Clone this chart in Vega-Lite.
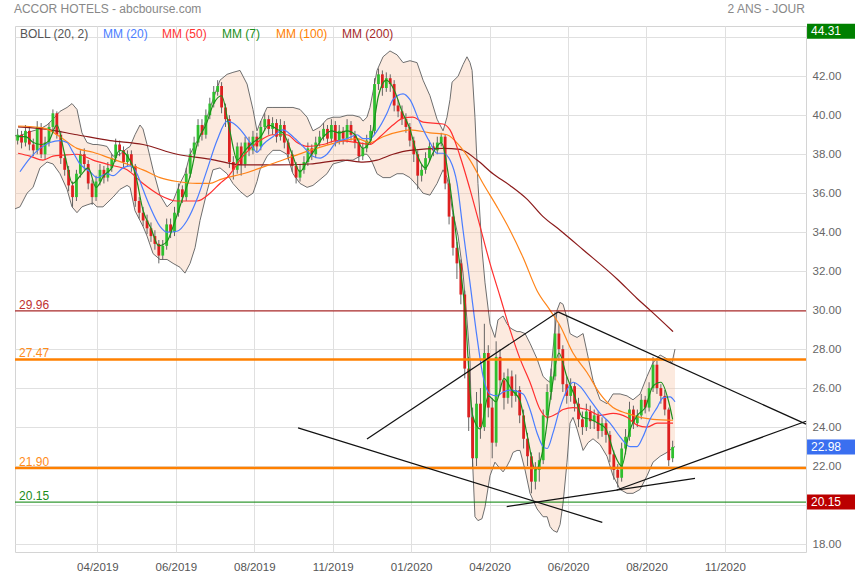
{
"$schema":"https://vega.github.io/schema/vega-lite/v6.json",
"width":791,"height":526,
"autosize":{"type":"none"},
"padding":{"left":15,"top":26,"right":49,"bottom":28},
"background":"#ffffff",
"config":{"view":{"stroke":"#d4d4d4"},"font":"Liberation Sans","axis":{"gridColor":"#e0e0e0","domain":false,"ticks":false,"labelFont":"Liberation Sans"},"scale":{"continuousPadding":0}},
"datasets":{
"candles":[
{"d":2,"o":38.7,"h":39.3,"l":38.5,"c":39.0},{"d":5,"o":39.0,"h":39.2,"l":38.3,"c":38.6},{"d":8,"o":38.6,"h":39.5,"l":38.4,"c":39.2},{"d":11,"o":39.2,"h":39.4,"l":38.2,"c":38.5},{"d":14,"o":38.5,"h":38.8,"l":37.9,"c":38.2},{"d":17,"o":38.2,"h":39.7,"l":38.0,"c":39.4},{"d":20,"o":39.4,"h":39.6,"l":37.8,"c":38.0},{"d":23,"o":38.0,"h":38.9,"l":37.7,"c":38.6},{"d":26,"o":38.6,"h":39.6,"l":38.4,"c":39.4},{"d":29,"o":39.4,"h":40.3,"l":39.2,"c":40.1},
{"d":32,"o":40.1,"h":40.2,"l":38.8,"c":39.0},{"d":35,"o":39.0,"h":39.2,"l":37.5,"c":37.8},{"d":38,"o":37.8,"h":38.0,"l":36.9,"c":37.2},{"d":41,"o":37.2,"h":37.4,"l":36.1,"c":36.4},{"d":44,"o":36.4,"h":36.6,"l":35.3,"c":35.8},{"d":47,"o":35.8,"h":37.2,"l":35.6,"c":37.0},{"d":50,"o":37.0,"h":38.2,"l":36.8,"c":38.0},{"d":53,"o":38.0,"h":38.3,"l":37.2,"c":37.5},{"d":56,"o":37.5,"h":37.7,"l":36.2,"c":36.5},{"d":59,"o":36.5,"h":36.7,"l":35.4,"c":35.8},
{"d":62,"o":35.8,"h":36.9,"l":35.6,"c":36.6},{"d":65,"o":36.6,"h":37.5,"l":36.4,"c":37.2},{"d":68,"o":37.2,"h":37.4,"l":36.5,"c":36.8},{"d":71,"o":36.8,"h":37.6,"l":36.6,"c":37.3},{"d":74,"o":37.3,"h":38.0,"l":37.1,"c":37.8},{"d":77,"o":37.8,"h":38.8,"l":37.6,"c":38.5},{"d":80,"o":38.5,"h":38.7,"l":37.9,"c":38.2},{"d":83,"o":38.2,"h":38.4,"l":37.3,"c":37.6},{"d":86,"o":37.6,"h":38.2,"l":37.4,"c":38.0},{"d":89,"o":38.0,"h":38.2,"l":37.1,"c":37.4},
{"d":92,"o":37.4,"h":37.5,"l":35.3,"c":35.6},{"d":95,"o":35.6,"h":35.8,"l":34.7,"c":35.0},{"d":98,"o":35.0,"h":35.3,"l":34.3,"c":34.6},{"d":101,"o":34.6,"h":34.9,"l":33.9,"c":34.2},{"d":104,"o":34.2,"h":34.5,"l":33.5,"c":33.8},{"d":107,"o":33.8,"h":34.1,"l":33.1,"c":33.4},{"d":110,"o":33.4,"h":33.6,"l":32.4,"c":32.8},{"d":113,"o":32.8,"h":33.6,"l":32.6,"c":33.3},{"d":116,"o":33.3,"h":34.7,"l":33.1,"c":34.4},{"d":119,"o":34.4,"h":34.7,"l":33.7,"c":34.0},
{"d":122,"o":34.0,"h":35.3,"l":33.8,"c":35.0},{"d":125,"o":35.0,"h":36.5,"l":34.8,"c":36.2},{"d":128,"o":36.2,"h":36.4,"l":35.5,"c":35.8},{"d":131,"o":35.8,"h":37.3,"l":35.6,"c":37.0},{"d":134,"o":37.0,"h":38.3,"l":36.8,"c":38.0},{"d":137,"o":38.0,"h":38.9,"l":37.8,"c":38.6},{"d":140,"o":38.6,"h":39.8,"l":38.4,"c":39.5},{"d":143,"o":39.5,"h":39.8,"l":38.7,"c":39.0},{"d":146,"o":39.0,"h":40.3,"l":38.8,"c":40.0},{"d":149,"o":40.0,"h":40.9,"l":39.8,"c":40.6},
{"d":152,"o":40.6,"h":41.5,"l":40.4,"c":41.2},{"d":155,"o":41.2,"h":41.8,"l":41.0,"c":41.5},{"d":158,"o":41.5,"h":41.7,"l":40.1,"c":40.4},{"d":161,"o":40.4,"h":40.6,"l":39.4,"c":39.8},{"d":164,"o":39.8,"h":40.0,"l":37.3,"c":37.6},{"d":167,"o":37.6,"h":37.9,"l":36.7,"c":37.2},{"d":170,"o":37.2,"h":38.6,"l":37.0,"c":38.4},{"d":173,"o":38.4,"h":38.6,"l":36.9,"c":37.5},{"d":176,"o":37.5,"h":38.9,"l":37.3,"c":38.6},{"d":179,"o":38.6,"h":38.9,"l":37.9,"c":38.2},
{"d":182,"o":38.2,"h":39.2,"l":38.0,"c":38.9},{"d":185,"o":38.9,"h":39.1,"l":38.1,"c":38.4},{"d":188,"o":38.4,"h":39.7,"l":38.2,"c":39.4},{"d":191,"o":39.4,"h":40.1,"l":39.2,"c":39.8},{"d":194,"o":39.8,"h":40.0,"l":39.0,"c":39.3},{"d":197,"o":39.3,"h":39.9,"l":39.0,"c":39.6},{"d":200,"o":39.6,"h":39.8,"l":38.6,"c":38.9},{"d":203,"o":38.9,"h":39.8,"l":38.7,"c":39.5},{"d":206,"o":39.5,"h":39.7,"l":38.3,"c":38.6},{"d":209,"o":38.6,"h":38.8,"l":37.7,"c":38.0},
{"d":212,"o":38.0,"h":38.2,"l":37.1,"c":37.4},{"d":215,"o":37.4,"h":37.6,"l":36.5,"c":36.8},{"d":218,"o":36.8,"h":37.5,"l":36.6,"c":37.2},{"d":221,"o":37.2,"h":37.9,"l":37.0,"c":37.6},{"d":224,"o":37.6,"h":38.6,"l":37.4,"c":38.3},{"d":227,"o":38.3,"h":38.5,"l":37.7,"c":38.0},{"d":230,"o":38.0,"h":38.9,"l":37.8,"c":38.6},{"d":233,"o":38.6,"h":39.2,"l":38.4,"c":38.9},{"d":236,"o":38.9,"h":39.6,"l":38.7,"c":39.3},{"d":239,"o":39.3,"h":39.5,"l":38.5,"c":38.8},
{"d":242,"o":38.8,"h":39.8,"l":38.6,"c":39.5},{"d":245,"o":39.5,"h":39.7,"l":38.4,"c":38.7},{"d":248,"o":38.7,"h":39.5,"l":38.5,"c":39.2},{"d":251,"o":39.2,"h":39.4,"l":38.5,"c":38.8},{"d":254,"o":38.8,"h":39.8,"l":38.6,"c":39.5},{"d":257,"o":39.5,"h":39.7,"l":38.7,"c":39.0},{"d":260,"o":39.0,"h":39.2,"l":38.3,"c":38.6},{"d":263,"o":38.6,"h":38.8,"l":37.6,"c":37.9},{"d":266,"o":37.9,"h":38.6,"l":37.7,"c":38.3},{"d":269,"o":38.3,"h":39.0,"l":38.1,"c":38.7},
{"d":272,"o":38.7,"h":39.5,"l":38.5,"c":39.2},{"d":275,"o":39.2,"h":41.9,"l":39.0,"c":41.6},{"d":278,"o":41.6,"h":42.4,"l":41.3,"c":42.1},{"d":281,"o":42.1,"h":42.3,"l":41.0,"c":41.4},{"d":284,"o":41.4,"h":42.2,"l":41.2,"c":41.9},{"d":287,"o":41.9,"h":42.1,"l":41.2,"c":41.6},{"d":290,"o":41.6,"h":41.8,"l":40.2,"c":40.5},{"d":293,"o":40.5,"h":40.8,"l":39.9,"c":40.2},{"d":296,"o":40.2,"h":40.5,"l":39.5,"c":39.8},{"d":299,"o":39.8,"h":40.1,"l":39.1,"c":39.4},
{"d":302,"o":39.4,"h":39.6,"l":38.4,"c":38.7},{"d":305,"o":38.7,"h":38.9,"l":37.6,"c":38.0},{"d":308,"o":38.0,"h":38.2,"l":36.2,"c":36.9},{"d":311,"o":36.9,"h":37.5,"l":36.6,"c":37.2},{"d":314,"o":37.2,"h":38.1,"l":37.0,"c":37.8},{"d":317,"o":37.8,"h":38.7,"l":37.6,"c":38.4},{"d":320,"o":38.4,"h":38.6,"l":37.9,"c":38.2},{"d":323,"o":38.2,"h":38.9,"l":38.0,"c":38.6},{"d":326,"o":38.6,"h":39.1,"l":38.4,"c":38.9},{"d":329,"o":38.9,"h":39.0,"l":36.2,"c":36.5},
{"d":332,"o":36.5,"h":36.7,"l":34.4,"c":34.8},{"d":335,"o":34.8,"h":35.0,"l":32.8,"c":33.2},{"d":338,"o":33.2,"h":33.5,"l":31.6,"c":32.4},{"d":341,"o":32.4,"h":32.6,"l":30.3,"c":30.8},{"d":344,"o":30.8,"h":31.0,"l":26.5,"c":27.0},{"d":347,"o":27.0,"h":27.6,"l":23.8,"c":24.5},{"d":350,"o":24.5,"h":25.0,"l":21.9,"c":22.4},{"d":353,"o":22.4,"h":25.8,"l":22.0,"c":25.2},{"d":356,"o":25.2,"h":26.0,"l":23.4,"c":24.0},{"d":359,"o":24.0,"h":29.3,"l":23.8,"c":27.8},
{"d":362,"o":27.8,"h":28.2,"l":24.5,"c":25.0},{"d":365,"o":25.0,"h":25.5,"l":22.4,"c":23.2},{"d":368,"o":23.2,"h":28.4,"l":23.0,"c":27.6},{"d":371,"o":27.6,"h":28.0,"l":25.8,"c":26.4},{"d":374,"o":26.4,"h":26.8,"l":24.9,"c":25.5},{"d":377,"o":25.5,"h":27.0,"l":25.2,"c":26.6},{"d":380,"o":26.6,"h":26.9,"l":25.0,"c":25.6},{"d":383,"o":25.6,"h":26.7,"l":25.3,"c":25.9},{"d":386,"o":25.9,"h":26.1,"l":24.2,"c":24.6},{"d":389,"o":24.6,"h":24.9,"l":22.9,"c":23.4},
{"d":392,"o":23.4,"h":23.7,"l":22.0,"c":22.5},{"d":395,"o":22.5,"h":22.7,"l":20.6,"c":21.2},{"d":398,"o":21.2,"h":22.2,"l":20.8,"c":21.8},{"d":401,"o":21.8,"h":22.7,"l":21.2,"c":22.3},{"d":404,"o":22.3,"h":24.9,"l":22.1,"c":24.6},{"d":407,"o":24.6,"h":26.2,"l":24.4,"c":25.8},{"d":410,"o":25.8,"h":27.0,"l":25.4,"c":26.6},{"d":413,"o":26.6,"h":29.9,"l":26.4,"c":28.8},{"d":416,"o":28.8,"h":29.3,"l":27.4,"c":28.0},{"d":419,"o":28.0,"h":28.2,"l":25.8,"c":26.2},
{"d":422,"o":26.2,"h":26.6,"l":25.2,"c":25.6},{"d":425,"o":25.6,"h":26.5,"l":25.3,"c":26.1},{"d":428,"o":26.1,"h":26.3,"l":24.8,"c":25.2},{"d":431,"o":25.2,"h":25.5,"l":24.0,"c":24.4},{"d":434,"o":24.4,"h":24.8,"l":23.6,"c":24.0},{"d":437,"o":24.0,"h":25.2,"l":23.8,"c":24.8},{"d":440,"o":24.8,"h":25.1,"l":23.9,"c":24.3},{"d":443,"o":24.3,"h":24.9,"l":23.9,"c":24.6},{"d":446,"o":24.6,"h":24.8,"l":23.4,"c":23.8},{"d":449,"o":23.8,"h":24.5,"l":23.5,"c":24.2},
{"d":452,"o":24.2,"h":24.4,"l":23.2,"c":23.6},{"d":455,"o":23.6,"h":23.8,"l":22.2,"c":22.6},{"d":458,"o":22.6,"h":22.8,"l":21.3,"c":21.8},{"d":461,"o":21.8,"h":22.1,"l":20.9,"c":21.4},{"d":464,"o":21.4,"h":23.2,"l":21.2,"c":22.9},{"d":467,"o":22.9,"h":23.9,"l":22.6,"c":23.5},{"d":470,"o":23.5,"h":25.3,"l":23.3,"c":24.9},{"d":473,"o":24.9,"h":25.1,"l":23.9,"c":24.2},{"d":476,"o":24.2,"h":24.9,"l":24.0,"c":24.6},{"d":479,"o":24.6,"h":25.7,"l":24.4,"c":25.4},
{"d":482,"o":25.4,"h":25.6,"l":24.7,"c":25.0},{"d":485,"o":25.0,"h":26.3,"l":24.8,"c":26.0},{"d":488,"o":26.0,"h":27.6,"l":25.8,"c":27.2},{"d":491,"o":27.2,"h":27.4,"l":25.7,"c":26.0},{"d":494,"o":26.0,"h":26.2,"l":25.2,"c":25.6},{"d":497,"o":25.6,"h":25.9,"l":24.6,"c":24.9},{"d":500,"o":24.9,"h":25.0,"l":22.0,"c":22.3},{"d":503,"o":22.4,"h":23.3,"l":22.2,"c":22.98}
],
"band":[
{"d":0,"up":38.95,"lo":35.2},{"d":3.8,"up":38.95,"lo":35.3},{"d":9.2,"up":39.1,"lo":36.0},{"d":13.8,"up":39.2,"lo":36.3},{"d":19.1,"up":39.3,"lo":37.3},{"d":24.5,"up":39.5,"lo":37.6},{"d":29.1,"up":39.8,"lo":37.5},{"d":34.4,"up":40.2,"lo":37.0},{"d":39.8,"up":40.4,"lo":36.2},{"d":43.6,"up":40.6,"lo":35.3},
{"d":47.4,"up":40.3,"lo":35.0},{"d":51.2,"up":39.1,"lo":35.3},{"d":55.1,"up":38.6,"lo":35.4},{"d":59.7,"up":38.5,"lo":35.5},{"d":62.7,"up":38.5,"lo":35.3},{"d":67.3,"up":38.45,"lo":35.3},{"d":70.4,"up":38.4,"lo":35.5},{"d":75.0,"up":37.9,"lo":35.8},{"d":80.3,"up":38.0,"lo":36.2},{"d":85.7,"up":38.3,"lo":36.4},
{"d":88.0,"up":38.4,"lo":36.3},{"d":91.8,"up":39.0,"lo":35.1},{"d":95.6,"up":39.5,"lo":34.6},{"d":97.9,"up":39.3,"lo":34.3},{"d":101.0,"up":38.5,"lo":33.8},{"d":105.6,"up":37.2,"lo":32.9},{"d":110.9,"up":35.9,"lo":32.6},{"d":116.3,"up":35.3,"lo":32.6},{"d":120.9,"up":35.6,"lo":32.4},{"d":126.2,"up":36.5,"lo":32.2},
{"d":130.0,"up":37.0,"lo":31.9},{"d":133.9,"up":38.0,"lo":32.4},{"d":137.7,"up":38.5,"lo":33.2},{"d":141.5,"up":38.9,"lo":34.6},{"d":146.9,"up":39.9,"lo":36.1},{"d":151.4,"up":40.8,"lo":37.2},{"d":156.8,"up":41.8,"lo":37.3},{"d":162.2,"up":42.1,"lo":37.0},{"d":166.7,"up":42.2,"lo":36.5},{"d":172.1,"up":42.3,"lo":36.1},
{"d":177.5,"up":41.6,"lo":35.8},{"d":182.0,"up":40.3,"lo":36.0},{"d":185.1,"up":39.2,"lo":36.6},{"d":187.4,"up":39.6,"lo":37.2},{"d":192.8,"up":40.4,"lo":37.9},{"d":197.3,"up":40.4,"lo":38.2},{"d":202.7,"up":40.4,"lo":38.2},{"d":208.0,"up":40.4,"lo":38.0},{"d":212.6,"up":40.4,"lo":37.0},{"d":218.0,"up":40.3,"lo":36.5},
{"d":223.4,"up":39.9,"lo":36.3},{"d":227.9,"up":39.2,"lo":36.4},{"d":233.3,"up":39.4,"lo":36.7},{"d":238.6,"up":39.8,"lo":37.0},{"d":243.2,"up":39.9,"lo":37.5},{"d":248.6,"up":39.9,"lo":37.6},{"d":254.0,"up":40.0,"lo":37.7},{"d":258.5,"up":40.0,"lo":37.7},{"d":263.9,"up":39.9,"lo":37.9},{"d":266.2,"up":39.7,"lo":38.0},
{"d":269.2,"up":39.9,"lo":38.0},{"d":271.5,"up":40.4,"lo":37.8},{"d":273.8,"up":41.2,"lo":37.5},{"d":276.9,"up":42.3,"lo":37.0},{"d":281.5,"up":43.0,"lo":36.8},{"d":286.8,"up":43.3,"lo":36.8},{"d":292.2,"up":43.1,"lo":37.0},{"d":296.8,"up":42.7,"lo":37.0},{"d":302.1,"up":42.8,"lo":36.8},{"d":307.5,"up":42.7,"lo":36.4},
{"d":312.1,"up":41.8,"lo":36.0},{"d":317.4,"up":41.0,"lo":35.9},{"d":322.8,"up":39.8,"lo":36.5},{"d":327.4,"up":39.2,"lo":37.2},{"d":330.4,"up":39.9,"lo":36.8},{"d":332.7,"up":40.8,"lo":36.0},{"d":334.3,"up":41.7,"lo":35.2},{"d":338.9,"up":42.0,"lo":33.8},{"d":342.7,"up":42.6,"lo":31.9},{"d":345.7,"up":43.0,"lo":29.5},
{"d":348.0,"up":42.7,"lo":27.5},{"d":349.6,"up":42.3,"lo":22.8},{"d":351.8,"up":39.9,"lo":19.4},{"d":354.1,"up":36.5,"lo":19.2},{"d":357.2,"up":33.1,"lo":19.3},{"d":359.5,"up":31.4,"lo":19.9},{"d":363.3,"up":29.3,"lo":21.5},{"d":367.1,"up":28.6,"lo":22.2},{"d":369.4,"up":29.5,"lo":22.0},{"d":373.3,"up":29.7,"lo":21.7},
{"d":376.3,"up":29.3,"lo":22.0},{"d":378.6,"up":29.1,"lo":22.3},{"d":380.9,"up":29.0,"lo":22.7},{"d":384.0,"up":28.9,"lo":22.8},{"d":386.3,"up":28.9,"lo":22.8},{"d":390.1,"up":28.8,"lo":21.8},{"d":393.9,"up":28.3,"lo":20.6},{"d":399.3,"up":27.5,"lo":19.8},{"d":403.9,"up":26.6,"lo":19.4},{"d":407.0,"up":26.4,"lo":19.4},
{"d":409.2,"up":26.3,"lo":18.9},{"d":411.5,"up":28.0,"lo":18.7},{"d":414.6,"up":30.0,"lo":18.6},{"d":416.9,"up":30.4,"lo":19.0},{"d":419.2,"up":30.3,"lo":20.1},{"d":422.2,"up":29.6,"lo":22.2},{"d":424.5,"up":28.8,"lo":24.2},{"d":426.8,"up":28.7,"lo":24.5},{"d":429.9,"up":28.6,"lo":23.9},{"d":434.5,"up":28.8,"lo":22.8},
{"d":438.3,"up":27.6,"lo":23.2},{"d":442.1,"up":26.4,"lo":23.4},{"d":447.5,"up":25.4,"lo":23.1},{"d":452.8,"up":25.2,"lo":22.5},{"d":457.4,"up":25.7,"lo":21.5},{"d":462.8,"up":25.7,"lo":20.8},{"d":468.1,"up":25.6,"lo":20.6},{"d":472.7,"up":25.4,"lo":20.6},{"d":478.1,"up":25.7,"lo":20.8},{"d":483.4,"up":26.6,"lo":21.5},
{"d":488.0,"up":27.3,"lo":22.2},{"d":493.4,"up":27.7,"lo":22.5},{"d":498.7,"up":27.5,"lo":22.7},{"d":502.5,"up":27.3,"lo":22.9},{"d":504.8,"up":28.0,"lo":23.0}
],
"ma":[
{"s":"MM200","d":2.3,"v":39.4},{"s":"MM200","d":21.4,"v":39.3},{"s":"MM200","d":47.4,"v":39.0},{"s":"MM200","d":72.7,"v":38.7},{"s":"MM200","d":97.9,"v":38.5},{"s":"MM200","d":123.9,"v":38.0},{"s":"MM200","d":149.1,"v":37.75},{"s":"MM200","d":174.4,"v":37.45},{"s":"MM200","d":200.4,"v":37.45},{"s":"MM200","d":225.6,"v":37.5},{"s":"MM200","d":250.9,"v":37.7},{"s":"MM200","d":266.2,"v":37.6},{"s":"MM200","d":276.9,"v":37.7},{"s":"MM200","d":289.1,"v":38.0},{"s":"MM200","d":302.1,"v":38.2},{"s":"MM200","d":327.4,"v":38.3},{"s":"MM200","d":340.4,"v":38.25},{"s":"MM200","d":353.4,"v":37.7},{"s":"MM200","d":365.6,"v":37.0},{"s":"MM200","d":378.6,"v":36.4},{"s":"MM200","d":391.6,"v":35.7},{"s":"MM200","d":403.9,"v":34.8},{"s":"MM200","d":416.9,"v":34.1},{"s":"MM200","d":434.5,"v":33.1},{"s":"MM200","d":460.5,"v":31.6},{"s":"MM200","d":475.8,"v":30.6},{"s":"MM200","d":485.7,"v":30.0},{"s":"MM200","d":503.3,"v":28.9},
{"s":"MM100","d":2.3,"v":39.45},{"s":"MM100","d":21.4,"v":39.35},{"s":"MM100","d":34.4,"v":38.9},{"s":"MM100","d":47.4,"v":38.3},{"s":"MM100","d":59.7,"v":38.1},{"s":"MM100","d":72.7,"v":37.8},{"s":"MM100","d":85.7,"v":37.5},{"s":"MM100","d":97.9,"v":37.2},{"s":"MM100","d":110.9,"v":36.8},{"s":"MM100","d":123.9,"v":36.6},{"s":"MM100","d":139.2,"v":36.5},{"s":"MM100","d":149.1,"v":36.5},{"s":"MM100","d":156.8,"v":36.7},{"s":"MM100","d":174.4,"v":37.0},{"s":"MM100","d":200.4,"v":37.6},{"s":"MM100","d":225.6,"v":38.2},{"s":"MM100","d":246.3,"v":38.6},{"s":"MM100","d":261.6,"v":38.8},{"s":"MM100","d":271.5,"v":38.6},{"s":"MM100","d":281.5,"v":38.9},{"s":"MM100","d":296.8,"v":39.2},{"s":"MM100","d":302.1,"v":39.25},{"s":"MM100","d":317.4,"v":39.1},{"s":"MM100","d":330.4,"v":39.0},{"s":"MM100","d":340.4,"v":38.4},{"s":"MM100","d":348.0,"v":37.7},{"s":"MM100","d":358.0,"v":36.5},{"s":"MM100","d":368.7,"v":35.3},{"s":"MM100","d":378.6,"v":34.1},{"s":"MM100","d":388.6,"v":32.7},{"s":"MM100","d":399.3,"v":31.0},{"s":"MM100","d":409.2,"v":30.0},{"s":"MM100","d":416.9,"v":29.2},{"s":"MM100","d":426.8,"v":27.8},{"s":"MM100","d":437.5,"v":26.8},{"s":"MM100","d":447.5,"v":25.7},{"s":"MM100","d":457.4,"v":25.0},{"s":"MM100","d":468.1,"v":24.7},{"s":"MM100","d":478.1,"v":24.5},{"s":"MM100","d":488.0,"v":24.4},{"s":"MM100","d":503.3,"v":24.35},
{"s":"MM50","d":2.3,"v":38.05},{"s":"MM50","d":11.5,"v":37.9},{"s":"MM50","d":21.4,"v":37.7},{"s":"MM50","d":29.1,"v":37.9},{"s":"MM50","d":36.7,"v":37.95},{"s":"MM50","d":47.4,"v":38.0},{"s":"MM50","d":59.7,"v":37.7},{"s":"MM50","d":72.7,"v":37.45},{"s":"MM50","d":85.7,"v":37.2},{"s":"MM50","d":97.9,"v":36.5},{"s":"MM50","d":110.9,"v":35.9},{"s":"MM50","d":123.9,"v":35.6},{"s":"MM50","d":139.2,"v":35.6},{"s":"MM50","d":149.1,"v":36.0},{"s":"MM50","d":156.8,"v":36.5},{"s":"MM50","d":162.2,"v":36.8},{"s":"MM50","d":174.4,"v":37.9},{"s":"MM50","d":187.4,"v":38.7},{"s":"MM50","d":197.3,"v":39.0},{"s":"MM50","d":208.0,"v":39.0},{"s":"MM50","d":215.7,"v":38.6},{"s":"MM50","d":223.4,"v":38.4},{"s":"MM50","d":235.6,"v":38.5},{"s":"MM50","d":246.3,"v":38.7},{"s":"MM50","d":261.6,"v":38.6},{"s":"MM50","d":271.5,"v":38.5},{"s":"MM50","d":279.2,"v":38.9},{"s":"MM50","d":289.1,"v":39.5},{"s":"MM50","d":296.8,"v":39.85},{"s":"MM50","d":304.4,"v":39.9},{"s":"MM50","d":312.1,"v":39.65},{"s":"MM50","d":327.4,"v":39.55},{"s":"MM50","d":332.7,"v":39.25},{"s":"MM50","d":340.4,"v":37.9},{"s":"MM50","d":348.0,"v":36.2},{"s":"MM50","d":355.7,"v":34.3},{"s":"MM50","d":363.3,"v":32.4},{"s":"MM50","d":371.0,"v":30.7},{"s":"MM50","d":378.6,"v":29.0},{"s":"MM50","d":386.3,"v":27.5},{"s":"MM50","d":393.9,"v":26.3},{"s":"MM50","d":401.6,"v":24.9},{"s":"MM50","d":407.0,"v":24.5},{"s":"MM50","d":414.6,"v":24.7},{"s":"MM50","d":419.2,"v":24.9},{"s":"MM50","d":426.8,"v":25.0},{"s":"MM50","d":437.5,"v":24.9},{"s":"MM50","d":447.5,"v":24.6},{"s":"MM50","d":457.4,"v":24.7},{"s":"MM50","d":468.1,"v":24.5},{"s":"MM50","d":475.8,"v":24.1},{"s":"MM50","d":483.4,"v":24.0},{"s":"MM50","d":491.1,"v":24.2},{"s":"MM50","d":503.3,"v":24.2},
{"s":"MM20","d":3.8,"v":37.1},{"s":"MM20","d":11.5,"v":37.8},{"s":"MM20","d":19.1,"v":38.3},{"s":"MM20","d":26.8,"v":38.6},{"s":"MM20","d":34.4,"v":38.7},{"s":"MM20","d":39.8,"v":38.6},{"s":"MM20","d":44.4,"v":38.1},{"s":"MM20","d":49.7,"v":37.5},{"s":"MM20","d":57.4,"v":37.1},{"s":"MM20","d":62.7,"v":36.8},{"s":"MM20","d":70.4,"v":37.0},{"s":"MM20","d":75.0,"v":36.9},{"s":"MM20","d":82.6,"v":37.3},{"s":"MM20","d":88.0,"v":37.4},{"s":"MM20","d":93.3,"v":37.0},{"s":"MM20","d":97.9,"v":36.2},{"s":"MM20","d":103.3,"v":35.3},{"s":"MM20","d":110.9,"v":34.3},{"s":"MM20","d":116.3,"v":34.0},{"s":"MM20","d":123.9,"v":34.05},{"s":"MM20","d":131.6,"v":34.6},{"s":"MM20","d":139.2,"v":35.7},{"s":"MM20","d":146.9,"v":37.2},{"s":"MM20","d":154.5,"v":38.7},{"s":"MM20","d":162.2,"v":39.7},{"s":"MM20","d":166.7,"v":39.6},{"s":"MM20","d":174.4,"v":39.1},{"s":"MM20","d":179.8,"v":38.6},{"s":"MM20","d":185.1,"v":38.1},{"s":"MM20","d":189.7,"v":38.5},{"s":"MM20","d":197.3,"v":38.9},{"s":"MM20","d":205.0,"v":39.25},{"s":"MM20","d":212.6,"v":38.9},{"s":"MM20","d":220.3,"v":38.4},{"s":"MM20","d":227.9,"v":37.9},{"s":"MM20","d":233.3,"v":37.8},{"s":"MM20","d":238.6,"v":38.0},{"s":"MM20","d":246.3,"v":38.65},{"s":"MM20","d":254.0,"v":38.8},{"s":"MM20","d":261.6,"v":39.0},{"s":"MM20","d":266.2,"v":38.8},{"s":"MM20","d":271.5,"v":38.8},{"s":"MM20","d":276.9,"v":39.2},{"s":"MM20","d":284.5,"v":40.1},{"s":"MM20","d":289.1,"v":40.8},{"s":"MM20","d":296.8,"v":41.1},{"s":"MM20","d":302.1,"v":40.8},{"s":"MM20","d":309.8,"v":39.6},{"s":"MM20","d":317.4,"v":38.6},{"s":"MM20","d":322.8,"v":38.05},{"s":"MM20","d":327.4,"v":38.05},{"s":"MM20","d":332.7,"v":37.7},{"s":"MM20","d":338.1,"v":36.5},{"s":"MM20","d":342.7,"v":34.1},{"s":"MM20","d":348.0,"v":31.4},{"s":"MM20","d":353.4,"v":28.6},{"s":"MM20","d":358.0,"v":26.6},{"s":"MM20","d":363.3,"v":25.7},{"s":"MM20","d":368.7,"v":25.6},{"s":"MM20","d":373.3,"v":25.8},{"s":"MM20","d":378.6,"v":25.9},{"s":"MM20","d":388.6,"v":25.7},{"s":"MM20","d":393.9,"v":24.9},{"s":"MM20","d":399.3,"v":23.7},{"s":"MM20","d":403.9,"v":23.0},{"s":"MM20","d":407.0,"v":22.9},{"s":"MM20","d":411.5,"v":23.7},{"s":"MM20","d":416.9,"v":25.0},{"s":"MM20","d":422.2,"v":25.9},{"s":"MM20","d":426.8,"v":26.3},{"s":"MM20","d":432.0,"v":26.1},{"s":"MM20","d":439.8,"v":25.4},{"s":"MM20","d":447.5,"v":24.7},{"s":"MM20","d":455.1,"v":24.2},{"s":"MM20","d":462.8,"v":23.5},{"s":"MM20","d":470.4,"v":23.0},{"s":"MM20","d":475.8,"v":23.0},{"s":"MM20","d":480.3,"v":23.5},{"s":"MM20","d":485.7,"v":24.4},{"s":"MM20","d":491.1,"v":25.0},{"s":"MM20","d":495.6,"v":25.5},{"s":"MM20","d":501.0,"v":25.55},{"s":"MM20","d":504.8,"v":25.3},
{"s":"MM7","d":2,"v":38.9},{"s":"MM7","d":8,"v":38.9},{"s":"MM7","d":14,"v":38.6},{"s":"MM7","d":20,"v":38.5},{"s":"MM7","d":26,"v":38.7},{"s":"MM7","d":32,"v":39.5},{"s":"MM7","d":38,"v":38.0},{"s":"MM7","d":44,"v":36.5},{"s":"MM7","d":50,"v":36.9},{"s":"MM7","d":56,"v":37.3},{"s":"MM7","d":62,"v":36.3},{"s":"MM7","d":68,"v":36.9},{"s":"MM7","d":74,"v":37.3},{"s":"MM7","d":80,"v":38.2},{"s":"MM7","d":86,"v":37.9},{"s":"MM7","d":92,"v":37.0},{"s":"MM7","d":98,"v":35.1},{"s":"MM7","d":104,"v":34.2},{"s":"MM7","d":110,"v":33.3},{"s":"MM7","d":116,"v":33.5},{"s":"MM7","d":122,"v":34.5},{"s":"MM7","d":128,"v":35.7},{"s":"MM7","d":134,"v":36.9},{"s":"MM7","d":140,"v":38.7},{"s":"MM7","d":146,"v":39.5},{"s":"MM7","d":152,"v":40.6},{"s":"MM7","d":158,"v":41.0},{"s":"MM7","d":164,"v":39.3},{"s":"MM7","d":170,"v":37.7},{"s":"MM7","d":176,"v":38.2},{"s":"MM7","d":182,"v":38.6},{"s":"MM7","d":188,"v":38.9},{"s":"MM7","d":194,"v":39.5},{"s":"MM7","d":200,"v":39.3},{"s":"MM7","d":206,"v":39.0},{"s":"MM7","d":212,"v":38.0},{"s":"MM7","d":218,"v":37.1},{"s":"MM7","d":224,"v":37.7},{"s":"MM7","d":230,"v":38.3},{"s":"MM7","d":236,"v":38.9},{"s":"MM7","d":242,"v":39.2},{"s":"MM7","d":248,"v":39.1},{"s":"MM7","d":254,"v":39.2},{"s":"MM7","d":260,"v":39.0},{"s":"MM7","d":266,"v":38.3},{"s":"MM7","d":272,"v":38.7},{"s":"MM7","d":278,"v":41.0},{"s":"MM7","d":284,"v":41.8},{"s":"MM7","d":290,"v":41.3},{"s":"MM7","d":296,"v":40.2},{"s":"MM7","d":302,"v":39.3},{"s":"MM7","d":308,"v":37.9},{"s":"MM7","d":314,"v":37.3},{"s":"MM7","d":320,"v":38.1},{"s":"MM7","d":326,"v":38.6},{"s":"MM7","d":332,"v":36.7},{"s":"MM7","d":338,"v":33.5},{"s":"MM7","d":344,"v":30.1},{"s":"MM7","d":350,"v":24.6},{"s":"MM7","d":356,"v":23.9},{"s":"MM7","d":362,"v":25.6},{"s":"MM7","d":368,"v":25.3},{"s":"MM7","d":374,"v":26.5},{"s":"MM7","d":380,"v":25.9},{"s":"MM7","d":386,"v":25.4},{"s":"MM7","d":392,"v":23.5},{"s":"MM7","d":398,"v":21.8},{"s":"MM7","d":404,"v":22.9},{"s":"MM7","d":410,"v":25.7},{"s":"MM7","d":416,"v":27.8},{"s":"MM7","d":422,"v":26.6},{"s":"MM7","d":428,"v":25.6},{"s":"MM7","d":434,"v":24.5},{"s":"MM7","d":440,"v":24.4},{"s":"MM7","d":446,"v":24.2},{"s":"MM7","d":452,"v":23.9},{"s":"MM7","d":458,"v":22.7},{"s":"MM7","d":464,"v":22.0},{"s":"MM7","d":470,"v":23.8},{"s":"MM7","d":476,"v":24.6},{"s":"MM7","d":482,"v":25.0},{"s":"MM7","d":488,"v":26.1},{"s":"MM7","d":494,"v":26.3},{"s":"MM7","d":500,"v":25.3},{"s":"MM7","d":503,"v":24.4}
],
"levels":[{"name":"29.96","v":29.96},{"name":"27.47","v":27.47},{"name":"21.90","v":21.90},{"name":"20.15","v":20.15}],
"trend":[
{"line":"a","d":269.2,"v":23.39},{"line":"a","d":415.3,"v":29.91},
{"line":"b","d":415.3,"v":29.91},{"line":"b","d":605,"v":24.15},
{"line":"c","d":216.5,"v":23.96},{"line":"c","d":449.2,"v":19.11},
{"line":"e","d":376.1,"v":19.92},{"line":"e","d":520.1,"v":21.37},
{"line":"f","d":460.2,"v":20.77},{"line":"f","d":605,"v":24.3}
],
"tags":[{"label":"44.31","v":44.31},{"label":"22.98","v":22.98},{"label":"20.15","v":20.15}]
},
"resolve":{"scale":{"color":"independent"}},
"layer":[
{"data":{"name":"band"},"mark":{"type":"area","color":"#f7c3a3","opacity":0.35},
 "encoding":{
  "x":{"field":"d","type":"quantitative","title":null,"scale":{"domain":[0,605],"nice":false,"zero":false,"padding":0},
   "axis":{"values":[63,123,183,243,303,363,423,483,543],"labelExpr":"['04/2019','06/2019','08/2019','11/2019','01/2020','04/2020','06/2020','08/2020','11/2020'][round((datum.value-63)/60)]","title":null,"grid":true,"labelColor":"#555555","labelFontSize":11.5,"labelPadding":9}},
  "y":{"field":"lo","type":"quantitative","title":null,"scale":{"domain":[17.59,44.58],"nice":false,"zero":false,"padding":0},
   "axis":{"orient":"right","values":[18,20,22,24,26,28,30,32,34,36,38,40,42,44],"labelExpr":"datum.value == 44 || datum.value == 20 ? '' : format(datum.value, '.2f')","title":null,"grid":true,"labelColor":"#666666","labelFontSize":11.5,"labelPadding":6,"labelAlign":"left"}},
  "y2":{"field":"up"}}},
{"data":{"name":"band"},"mark":{"type":"line","color":"#6e6e6e","strokeWidth":1},
 "encoding":{"x":{"field":"d","type":"quantitative","title":null,"scale":{"domain":[0,605],"nice":false,"zero":false,"padding":0}},"y":{"field":"up","type":"quantitative","title":null,"scale":{"domain":[17.59,44.58],"nice":false,"zero":false,"padding":0}}}},
{"data":{"name":"band"},"mark":{"type":"line","color":"#6e6e6e","strokeWidth":1},
 "encoding":{"x":{"field":"d","type":"quantitative","title":null,"scale":{"domain":[0,605],"nice":false,"zero":false,"padding":0}},"y":{"field":"lo","type":"quantitative","title":null,"scale":{"domain":[17.59,44.58],"nice":false,"zero":false,"padding":0}}}},
{"data":{"name":"candles"},"mark":{"type":"rule","color":"#555555","strokeWidth":0.9},
 "encoding":{"x":{"field":"d","type":"quantitative","title":null,"scale":{"domain":[0,605],"nice":false,"zero":false,"padding":0}},"y":{"field":"l","type":"quantitative","title":null,"scale":{"domain":[17.59,44.58],"nice":false,"zero":false,"padding":0}},"y2":{"field":"h"}}},
{"data":{"name":"candles"},"mark":{"type":"bar","size":2.8,"orient":"vertical"},
 "encoding":{"x":{"field":"d","type":"quantitative","title":null,"scale":{"domain":[0,605],"nice":false,"zero":false,"padding":0}},"y":{"field":"o","type":"quantitative","title":null,"scale":{"domain":[17.59,44.58],"nice":false,"zero":false,"padding":0}},"y2":{"field":"c"},
  "color":{"condition":{"test":"datum.c >= datum.o","value":"#2fbf2f"},"value":"#dd2020"}}},
{"data":{"name":"ma"},"mark":{"type":"line","strokeWidth":1.2,"interpolate":"monotone"},
 "encoding":{"x":{"field":"d","type":"quantitative","title":null,"scale":{"domain":[0,605],"nice":false,"zero":false,"padding":0}},"y":{"field":"v","type":"quantitative","title":null,"scale":{"domain":[17.59,44.58],"nice":false,"zero":false,"padding":0}},
  "color":{"field":"s","type":"nominal","scale":{"domain":["MM200","MM100","MM50","MM20","MM7"],"range":["#8b1a1a","#ff8419","#ff2f2f","#4a7dff","#1c8e1c"]},"legend":null}}},
{"data":{"name":"levels"},"transform":[{"filter":"datum.name == '27.47' || datum.name == '21.90'"}],"mark":{"type":"rule","color":"#ff8000","strokeWidth":2.6},
 "encoding":{"y":{"field":"v","type":"quantitative","title":null,"scale":{"domain":[17.59,44.58],"nice":false,"zero":false,"padding":0}}}},
{"data":{"name":"levels"},"transform":[{"filter":"datum.name == '29.96' || datum.name == '20.15'"}],"mark":{"type":"rule","strokeWidth":1},
 "encoding":{"y":{"field":"v","type":"quantitative","title":null,"scale":{"domain":[17.59,44.58],"nice":false,"zero":false,"padding":0}},
  "color":{"field":"name","type":"nominal","scale":{"domain":["29.96","20.15"],"range":["#a00000","#008000"]},"legend":null}}},
{"data":{"name":"levels"},"mark":{"type":"text","align":"left","baseline":"alphabetic","dy":-2,"fontSize":12},
 "encoding":{"x":{"datum":3.1,"scale":{"domain":[0,605],"nice":false,"zero":false,"padding":0}},"y":{"field":"v","type":"quantitative","title":null,"scale":{"domain":[17.59,44.58],"nice":false,"zero":false,"padding":0}},"text":{"field":"name"},
  "color":{"field":"name","type":"nominal","scale":{"domain":["29.96","27.47","21.90","20.15"],"range":["#c03030","#ff8c1a","#ff8c1a","#1a8c1a"]},"legend":null}}},
{"data":{"name":"trend"},"mark":{"type":"line","color":"#111111","strokeWidth":1.2},
 "encoding":{"x":{"field":"d","type":"quantitative","title":null,"scale":{"domain":[0,605],"nice":false,"zero":false,"padding":0}},"y":{"field":"v","type":"quantitative","title":null,"scale":{"domain":[17.59,44.58],"nice":false,"zero":false,"padding":0}},"detail":{"field":"line"}}},
{"data":{"name":"tags"},"mark":{"type":"bar","orient":"horizontal","size":15},
 "encoding":{"x":{"datum":605.8,"scale":{"domain":[0,605],"nice":false,"zero":false,"padding":0}},"x2":{"datum":642.5},"y":{"field":"v","type":"quantitative","title":null,"scale":{"domain":[17.59,44.58],"nice":false,"zero":false,"padding":0}},
  "color":{"field":"label","type":"nominal","scale":{"domain":["44.31","22.98","20.15"],"range":["#008000","#3a6ff0","#bb0000"]},"legend":null}}},
{"data":{"name":"tags"},"mark":{"type":"text","align":"left","baseline":"middle","fontSize":12,"color":"#ffffff"},
 "encoding":{"x":{"datum":608.8,"scale":{"domain":[0,605],"nice":false,"zero":false,"padding":0}},"y":{"field":"v","type":"quantitative","title":null,"scale":{"domain":[17.59,44.58],"nice":false,"zero":false,"padding":0}},"text":{"field":"label"}}},
{"data":{"values":[{"t":"BOLL (20, 2)","x":3.8,"c":"#555555"},{"t":"MM (20)","x":67.3,"c":"#4a7dff"},{"t":"MM (50)","x":112.4,"c":"#ff3333"},{"t":"MM (7)","x":158.3,"c":"#1a8f1a"},{"t":"MM (100)","x":199.6,"c":"#ff8000"},{"t":"MM (200)","x":250.1,"c":"#a52a2a"}]},
 "mark":{"type":"text","align":"left","baseline":"alphabetic","fontSize":12},
 "encoding":{"x":{"field":"x","type":"quantitative","title":null,"scale":{"domain":[0,605],"nice":false,"zero":false,"padding":0}},"y":{"datum":43.97,"scale":{"domain":[17.59,44.58],"nice":false,"zero":false,"padding":0}},"text":{"field":"t"},"color":{"field":"c","type":"nominal","scale":null}}},
{"data":{"values":[{"t":"ACCOR HOTELS - abcbourse.com"}]},"mark":{"type":"text","align":"left","baseline":"alphabetic","fontSize":12,"color":"#888888"},
 "encoding":{"x":{"datum":-0.8,"scale":{"domain":[0,605],"nice":false,"zero":false,"padding":0}},"y":{"datum":45.25,"scale":{"domain":[17.59,44.58],"nice":false,"zero":false,"padding":0}},"text":{"field":"t"}}},
{"data":{"values":[{"t":"2 ANS - JOUR"}]},"mark":{"type":"text","align":"right","baseline":"alphabetic","fontSize":12,"color":"#888888"},
 "encoding":{"x":{"datum":604.2,"scale":{"domain":[0,605],"nice":false,"zero":false,"padding":0}},"y":{"datum":45.25,"scale":{"domain":[17.59,44.58],"nice":false,"zero":false,"padding":0}},"text":{"field":"t"}}}
]
}
